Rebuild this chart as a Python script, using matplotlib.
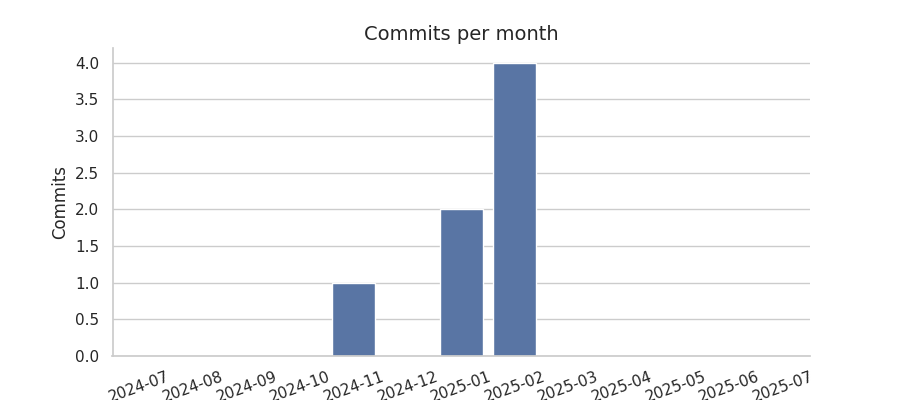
import matplotlib
matplotlib.use("Agg")
import matplotlib.pyplot as plt
import seaborn as sns

months = ["2024-07", "2024-08", "2024-09", "2024-10", "2024-11", "2024-12",
          "2025-01", "2025-02", "2025-03", "2025-04", "2025-05", "2025-06", "2025-07"]
commits = [0, 0, 0, 0, 1, 0, 2, 4, 0, 0, 0, 0, 0]

sns.set_theme(style="whitegrid")
fig, ax = plt.subplots(figsize=(9, 4), dpi=100)
sns.barplot(x=months, y=commits, color="#4c72b0", ax=ax)
ax.set_title("Commits per month", fontsize=14)
ax.set_ylabel("Commits", fontsize=12)
ax.set_xlabel("")
ax.set_ylim(0, 4.2)
plt.setp(ax.get_xticklabels(), rotation=20)
sns.despine(ax=ax)
fig.subplots_adjust(left=0.125, right=0.9, top=0.88, bottom=0.11)
fig.savefig("out.png")
